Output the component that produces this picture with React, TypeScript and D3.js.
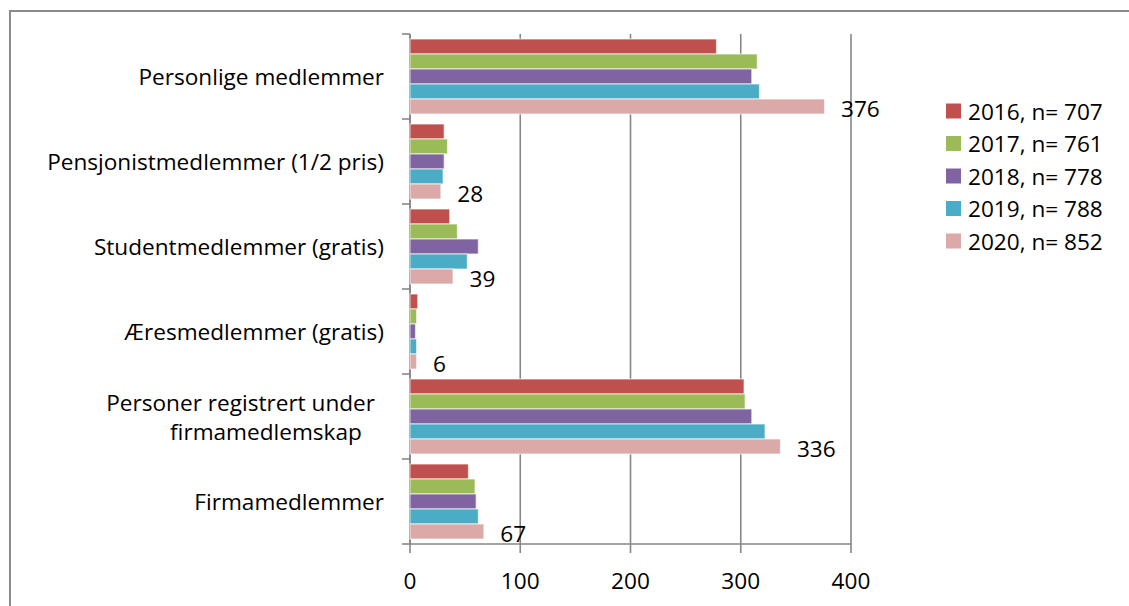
import React from "react";
import * as d3 from "d3";

const categories = [
  "Personlige medlemmer",
  "Pensjonistmedlemmer (1/2 pris)",
  "Studentmedlemmer (gratis)",
  "Æresmedlemmer (gratis)",
  "Personer registrert under|firmamedlemskap",
  "Firmamedlemmer",
];
const seriesNames = ["2016, n= 707", "2017, n= 761", "2018, n= 778", "2019, n= 788", "2020, n= 852"];
const values2016 = [278, 31, 36, 7, 303, 53];
const values2017 = [315, 34, 43, 6, 304, 59];
const values2018 = [310, 31, 62, 5, 310, 60];
const values2019 = [317, 30, 52, 6, 322, 62];
const values2020 = [376, 28, 39, 6, 336, 67];
const xTicks = [0, 100, 200, 300, 400];
const colors = ["#C0504D", "#9BBB59", "#8064A2", "#4BACC6", "#DBA9A8"];

const series = [values2016, values2017, values2018, values2019, values2020];

const W = 1129;
const H = 606;
const FONT = "'Open Sans', sans-serif";
const FS = 22.6;

export default function App() {
  const x = d3.scaleLinear().domain([0, 400]).range([410, 851]);
  const y = d3.scaleBand<string>().domain(categories).range([34, 544]).paddingInner(0).paddingOuter(0);
  const bandH = y.bandwidth();
  const inner = d3
    .scaleBand<number>()
    .domain(series.map((_, i) => i))
    .range([0, bandH])
    .paddingInner(0)
    .paddingOuter(0.3333);
  const boundaries = categories.map((c) => y(c) as number).concat([544]);

  return (
    <svg
      width={W}
      height={H}
      style={{ position: "absolute", left: 0, top: 0, background: "#fff" }}
      fontFamily={FONT}
    >
      <rect x={10} y={11} width={W + 20} height={H + 20} fill="#fff" stroke="#8a8a8a" strokeWidth={2} />
      {/* gridlines */}
      {xTicks.map((t) => (
        <line key={"g" + t} x1={x(t)} x2={x(t)} y1={34} y2={544} stroke="#878787" strokeWidth={1.6} />
      ))}
      {/* axes */}
      <line x1={x(0)} x2={x(0)} y1={34} y2={544} stroke="#878787" strokeWidth={1.6} />
      <line x1={x(0)} x2={x(400)} y1={544} y2={544} stroke="#878787" strokeWidth={1.6} />
      {boundaries.map((b, i) => (
        <line key={"yt" + i} x1={402} x2={x(0)} y1={b} y2={b} stroke="#878787" strokeWidth={1.6} />
      ))}
      {xTicks.map((t) => (
        <line key={"xt" + t} x1={x(t)} x2={x(t)} y1={544} y2={553} stroke="#878787" strokeWidth={1.6} />
      ))}
      {/* bars */}
      {categories.map((c, ci) =>
        series.map((s, si) => (
          <rect
            key={c + si}
            x={x(0)}
            y={(y(c) as number) + (inner(si) as number)}
            width={x(s[ci]) - x(0)}
            height={inner.bandwidth()}
            fill={colors[si]}
            stroke="#fff"
            strokeOpacity={0.6}
            strokeWidth={1.2}
          />
        ))
      )}
      {/* data labels for 2020 */}
      {categories.map((c, ci) => (
        <text
          key={"lbl" + ci}
          x={x(values2020[ci]) + 16.5}
          y={(y(c) as number) + (inner(4) as number) + inner.bandwidth() / 2 + 1.5}
          dominantBaseline="central"
          fontSize={FS}
          fill="#000"
        >
          {values2020[ci]}
        </text>
      ))}
      {/* category labels */}
      {categories.map((c, ci) => {
        const cy = (y(c) as number) + bandH / 2;
        const lines = c.split("|");
        if (lines.length === 1) {
          return (
            <text key={"cat" + ci} x={384} y={cy} textAnchor="end" dominantBaseline="central" fontSize={FS} fill="#000">
              {c}
            </text>
          );
        }
        return (
          <g key={"cat" + ci}>
            <text x={375} y={cy - 14.5} textAnchor="end" dominantBaseline="central" fontSize={FS} fill="#000">
              {lines[0]}
            </text>
            <text x={266} y={cy + 14.5} textAnchor="middle" dominantBaseline="central" fontSize={FS} fill="#000">
              {lines[1]}
            </text>
          </g>
        );
      })}
      {/* x tick labels */}
      {xTicks.map((t) => (
        <text key={"xl" + t} x={x(t)} y={580} textAnchor="middle" dominantBaseline="central" fontSize={FS} fill="#000">
          {t}
        </text>
      ))}
      {/* legend */}
      {seriesNames.map((n, i) => (
        <g key={"leg" + i} transform={`translate(946, ${111 + i * 32.5})`}>
          <rect x={0} y={-7.5} width={15} height={15} fill={colors[i]} />
          <text x={22} y={0} dominantBaseline="central" fontSize={FS} fill="#000">
            {n}
          </text>
        </g>
      ))}
    </svg>
  );
}
